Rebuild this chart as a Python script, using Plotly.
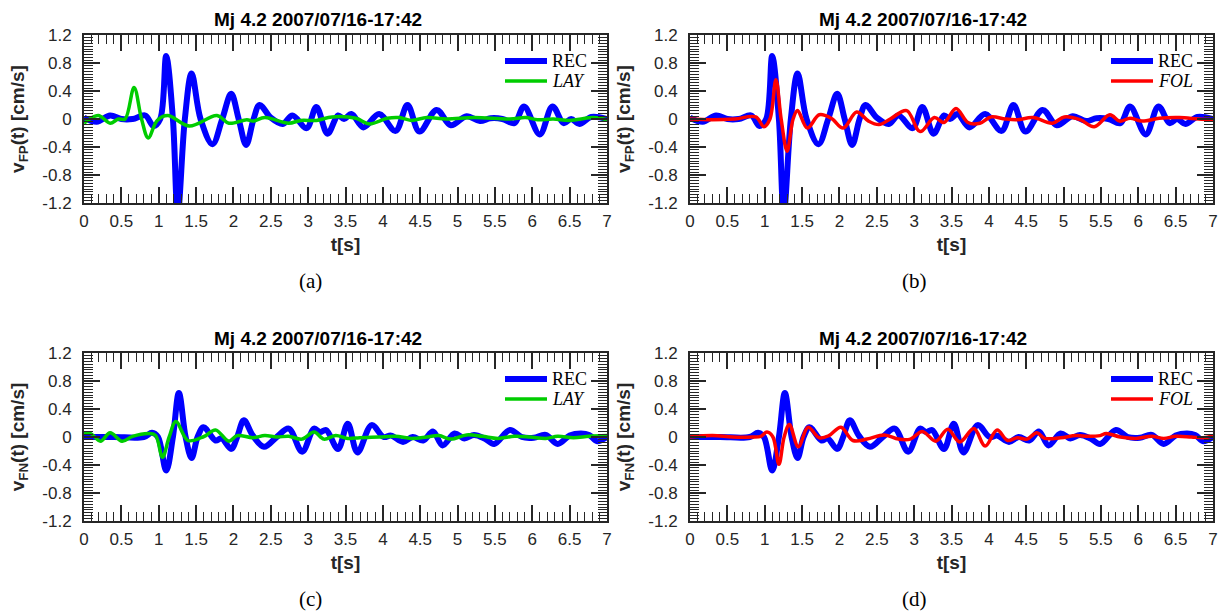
import plotly.graph_objects as go

# ---------------- data ----------------
# Fault-parallel component, recorded (panels a, b)
t_rec_fp = [0, 0.17, 0.35, 0.5, 0.65, 0.82, 0.93, 1.02, 1.10, 1.19, 1.255, 1.35, 1.44, 1.56, 1.72,
            1.85, 1.97, 2.07, 2.17, 2.27, 2.35, 2.5, 2.66, 2.79, 2.98, 3.11, 3.26, 3.40, 3.48, 3.58,
            3.74, 3.95, 4.17, 4.33, 4.49, 4.72, 4.91, 5.12, 5.30, 5.44, 5.60, 5.76, 5.89, 6.10, 6.27,
            6.42, 6.52, 6.63, 6.79, 7.0]
v_rec_fp = [0.02, -0.04, 0.05, 0.0, 0.0, 0.05, -0.10, 0.0, 0.90, 0.0, -1.35, 0.0, 0.65, 0.0, -0.36,
            0.0, 0.36, 0.0, -0.37, 0.0, 0.20, 0.02, -0.07, 0.05, -0.13, 0.17, -0.21, 0.05, 0.0, 0.07,
            -0.12, 0.07, -0.17, 0.20, -0.18, 0.13, -0.09, 0.04, -0.03, 0.01, 0.0, -0.06, 0.18, -0.22, 0.18,
            -0.06, 0.0, -0.07, 0.03, 0.0]

# Fault-parallel, layered model (panel a)
t_lay_fp = [0, 0.19, 0.35, 0.46, 0.55, 0.67, 0.77, 0.86, 0.98, 1.12, 1.41, 1.78, 1.94, 2.18, 2.26,
            2.42, 2.74, 2.9, 3.11, 3.32, 3.64, 3.82, 4.06, 4.22, 4.38, 4.59, 4.85, 5.22, 5.7, 5.91,
            6.07, 6.28, 6.5, 6.82, 7.0]
v_lay_fp = [-0.06, 0.05, -0.06, 0.0, 0.0, 0.45, 0.0, -0.27, -0.02, 0.05, -0.10, 0.05, -0.06, -0.01, -0.03,
            0.02, -0.06, -0.02, -0.02, 0.03, 0.01, -0.07, 0.01, 0.02, -0.02, 0.02, 0.0, 0.02, 0.0, 0.02,
            -0.01, 0.0, -0.02, 0.02, -0.01]

# Fault-parallel, folded model (panel b)
t_fol_fp = [0, 0.3, 0.6, 0.88, 0.99, 1.07, 1.15, 1.22, 1.30, 1.38, 1.44, 1.57, 1.73, 1.89, 2.05,
            2.23, 2.39, 2.53, 2.68, 2.90, 3.08, 3.27, 3.40, 3.56, 3.72, 3.88, 4.03, 4.22, 4.38, 4.59,
            4.85, 5.01, 5.22, 5.41, 5.62, 5.75, 5.89, 6.05, 6.28, 6.55, 6.81, 7.0]
v_fol_fp = [0.0, -0.01, 0.0, 0.03, -0.11, 0.0, 0.56, 0.0, -0.46, 0.0, 0.12, -0.13, 0.06, 0.01, -0.13,
            0.10, -0.03, -0.08, 0.0, 0.12, -0.18, 0.02, -0.05, 0.15, -0.05, -0.06, 0.03, 0.0, -0.01, 0.02,
            -0.06, 0.03, -0.01, -0.11, 0.06, -0.03, 0.01, -0.03, 0.01, 0.02, 0.0, -0.01]

# Fault-normal component, recorded (panels c, d)
t_rec_fn = [0, 0.4, 0.8, 0.91, 0.99, 1.10, 1.19, 1.27, 1.36, 1.44, 1.52, 1.60, 1.76, 1.84, 1.97,
            2.05, 2.14, 2.26, 2.41, 2.58, 2.74, 2.92, 3.08, 3.16, 3.24, 3.40, 3.53, 3.66, 3.85, 4.01,
            4.11, 4.27, 4.40, 4.54, 4.67, 4.80, 4.96, 5.09, 5.22, 5.36, 5.49, 5.70, 5.86, 6.02, 6.18,
            6.34, 6.50, 6.65, 6.76, 6.87, 7.0]
v_rec_fn = [0.0, 0.0, 0.0, 0.06, 0.0, -0.48, 0.0, 0.63, 0.0, -0.30, 0.0, 0.14, -0.05, -0.02, -0.17,
            0.0, 0.24, 0.02, -0.14, 0.0, 0.12, -0.21, 0.12, 0.07, 0.10, -0.17, 0.19, -0.22, 0.17, 0.0,
            0.02, -0.07, 0.0, -0.05, 0.08, -0.12, 0.05, -0.02, 0.03, -0.02, -0.10, 0.10, 0.0, -0.01, 0.03,
            -0.10, 0.02, 0.05, 0.03, -0.06, 0.0]

# Fault-normal, layered model (panel c)
t_lay_fn = [0, 0.09, 0.22, 0.35, 0.51, 0.65, 0.88, 0.96, 1.05, 1.14, 1.23, 1.39, 1.57, 1.63, 1.76,
            1.94, 2.05, 2.26, 2.42, 2.58, 2.74, 2.92, 3.08, 3.21, 3.37, 3.53, 3.69, 3.95, 4.17, 4.38,
            4.59, 4.75, 4.91, 5.12, 5.33, 5.54, 5.76, 5.97, 6.18, 6.34, 6.55, 6.76, 7.0]
v_lay_fn = [0.06, 0.05, -0.06, 0.06, -0.06, 0.01, 0.05, 0.02, -0.29, 0.0, 0.22, -0.05, -0.01, 0.02, 0.10,
            -0.06, 0.02, -0.01, 0.02, 0.0, 0.01, -0.03, 0.07, -0.03, 0.02, -0.02, -0.01, 0.0, 0.01, -0.02,
            0.0, 0.02, -0.03, 0.03, 0.01, -0.02, 0.01, 0.0, -0.02, 0.01, -0.01, 0.01, 0.02]

# Fault-normal, folded model (panel d)
t_fol_fn = [0, 0.30, 0.57, 0.83, 0.95, 1.03, 1.11, 1.19, 1.26, 1.33, 1.45, 1.58, 1.73, 1.86, 2.02,
            2.18, 2.37, 2.60, 2.79, 2.95, 3.11, 3.29, 3.45, 3.61, 3.80, 3.95, 4.11, 4.25, 4.38, 4.51,
            4.64, 4.75, 4.96, 5.17, 5.33, 5.49, 5.57, 5.76, 5.97, 6.18, 6.34, 6.50, 6.71, 6.87, 7.0]
v_fol_fn = [0.0, 0.02, 0.0, 0.0, 0.01, 0.07, 0.0, -0.39, 0.0, 0.18, -0.14, 0.14, -0.01, 0.02, 0.14,
            -0.05, -0.03, 0.03, -0.03, -0.03, 0.08, -0.06, 0.11, -0.07, 0.12, -0.13, 0.10, -0.05, -0.01, -0.03,
            0.06, -0.02, -0.01, 0.02, 0.01, 0.02, 0.05, 0.0, -0.02, 0.01, -0.02, 0.01, 0.0, -0.01, 0.02]

y_tick_vals = [-1.2, -0.8, -0.4, 0, 0.4, 0.8, 1.2]
y_tick_text = ["-1.2", "-0.8", "-0.4", "0", "0.4", "0.8", "1.2"]
panel_title = "Mj 4.2 2007/07/16-17:42"
captions = ["(a)", "(b)", "(c)", "(d)"]

# ---------------- layout geometry ----------------
W, H = 1226, 612
def px_x(p):
    return p / W
def px_y(p):
    return 1 - p / H

col_x = [(84, 607), (690, 1213)]
row_y = [(35, 203), (353, 521)]

INK = "#262626"
SANS = "Liberation Sans"
SERIF = "Liberation Serif"
REC_COLOR = "#0000FF"

fig = go.Figure()

panels = [
    # (rec_t, rec_v, mod_t, mod_v, mod_name, mod_color, comp)
    (t_rec_fp, v_rec_fp, t_lay_fp, v_lay_fp, "LAY", "#00CC00", "FP"),
    (t_rec_fp, v_rec_fp, t_fol_fp, v_fol_fp, "FOL", "#FF0000", "FP"),
    (t_rec_fn, v_rec_fn, t_lay_fn, v_lay_fn, "LAY", "#00CC00", "FN"),
    (t_rec_fn, v_rec_fn, t_fol_fn, v_fol_fn, "FOL", "#FF0000", "FN"),
]

annotations = []
shapes = []
for i, (rt, rv, mt, mv, mname, mcol, comp) in enumerate(panels):
    n = i + 1
    sfx = "" if n == 1 else str(n)
    col = i % 2
    row = i // 2
    x0, x1 = col_x[col]
    y0, y1 = row_y[row]
    fig.add_trace(go.Scatter(x=rt, y=rv, mode="lines", name="REC", showlegend=False,
                             line=dict(color=REC_COLOR, width=6, shape="spline", smoothing=1.0),
                             xaxis="x" + sfx, yaxis="y" + sfx))
    fig.add_trace(go.Scatter(x=mt, y=mv, mode="lines", name=mname, showlegend=False,
                             line=dict(color=mcol, width=3.5, shape="spline", smoothing=1.0),
                             xaxis="x" + sfx, yaxis="y" + sfx))

    xa = dict(domain=[px_x(x0), px_x(x1)], anchor="y" + sfx, range=[0, 7],
              tickmode="linear", tick0=0, dtick=0.5,
              ticks="inside", ticklen=16, tickwidth=1.5, tickcolor=INK,
              minor=dict(tickmode="linear", tick0=0, dtick=0.1, ticks="inside",
                         ticklen=9, tickwidth=1, tickcolor=INK),
              showline=True, linewidth=2, linecolor=INK, mirror="allticks",
              showgrid=False, zeroline=False, automargin=False,
              tickfont=dict(family=SANS, size=17, color=INK), ticklabelstandoff=2,
              title=dict(text="<b>t[s]</b>", font=dict(family=SANS, size=19, color=INK), standoff=7))
    ya = dict(domain=[px_y(y1), px_y(y0)], anchor="x" + sfx, range=[-1.2, 1.2],
              tickmode="array", tickvals=y_tick_vals, ticktext=y_tick_text,
              ticks="inside", ticklen=16, tickwidth=1.5, tickcolor=INK,
              minor=dict(tickmode="linear", tick0=-1.2, dtick=0.04, ticks="inside",
                         ticklen=9, tickwidth=1, tickcolor=INK),
              showline=True, linewidth=2, linecolor=INK, mirror="allticks",
              showgrid=False, zeroline=False, automargin=False,
              tickfont=dict(family=SANS, size=17, color=INK), ticklabelstandoff=7,
              title=dict(text="<b>v<sub>" + comp + "</sub>(t) [cm/s]</b>",
                         font=dict(family=SANS, size=19, color=INK), standoff=13))
    fig.update_layout(**{"xaxis" + sfx: xa, "yaxis" + sfx: ya})

    # legend keys (top-right inside each panel)
    ly1 = y0 + 26
    ly2 = y0 + 46
    for ly, lcol, lw, ltxt in [(ly1, REC_COLOR, 6, "REC"), (ly2, mcol, 3.5, "<i>" + mname + "</i>")]:
        shapes.append(dict(type="line", xref="paper", yref="paper",
                           x0=px_x(x1 - 102), x1=px_x(x1 - 60), y0=px_y(ly), y1=px_y(ly),
                           line=dict(color=lcol, width=lw)))
        annotations.append(dict(text=ltxt, x=px_x(x1 - 57), y=px_y(ly), xref="paper", yref="paper",
                                showarrow=False, xanchor="left", yanchor="middle",
                                font=dict(family=SERIF, size=18, color="black")))

    tx = 318 if col == 0 else 923
    annotations.append(dict(text="<b>" + panel_title + "</b>", x=px_x(tx), y=px_y(y0 - 15),
                            xref="paper", yref="paper", showarrow=False,
                            xanchor="center", yanchor="middle",
                            font=dict(family=SANS, size=19, color="black")))
    cx = 310 if col == 0 else 914
    annotations.append(dict(text=captions[i], x=px_x(cx), y=px_y(y1 + 78),
                            xref="paper", yref="paper", showarrow=False,
                            xanchor="center", yanchor="middle",
                            font=dict(family=SERIF, size=21, color="black")))

fig.update_layout(width=W, height=H, margin=dict(l=0, r=0, t=0, b=0),
                  paper_bgcolor="white", plot_bgcolor="white",
                  showlegend=False, annotations=annotations, shapes=shapes)

fig.write_html("out.html", config={"displayModeBar": False},
               post_script="document.body.style.margin='0';"
                           "document.documentElement.style.overflow='hidden';")
